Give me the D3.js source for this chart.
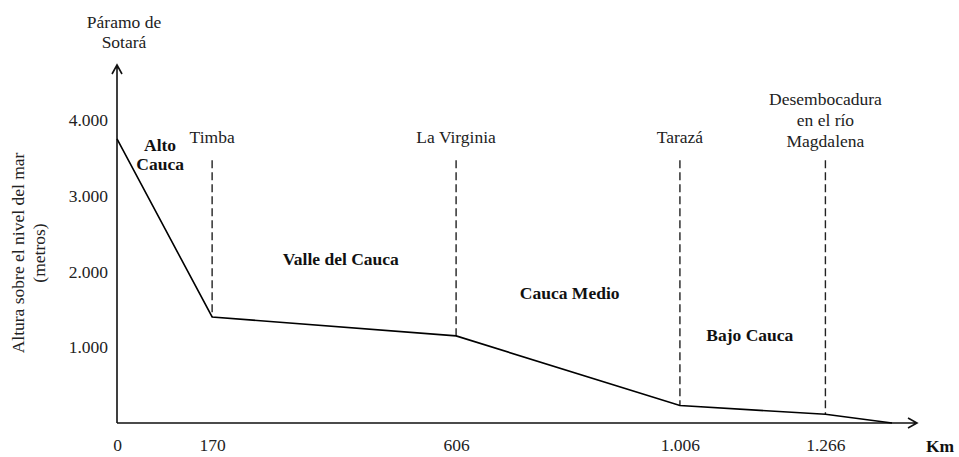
<!DOCTYPE html>
<html>
<head>
<meta charset="utf-8">
<script src="https://cdn.jsdelivr.net/npm/d3@7"></script>
<style>
  body { margin: 0; background: #fff; }
  svg { display: block; font-family: "Liberation Serif", "DejaVu Serif", serif; }
  .tick text { font-size: 17.5px; fill: #222; }
</style>
</head>
<body>
<div id="chart"></div>
<script>
// profile of the river (km from source, altitude in metres)
const km = [0, 170, 606, 1006, 1266, 1385];
const altitude = [3750, 1400, 1150, 230, 115, 0];

// places along the river
const stationNames = [["Timba"], ["La Virginia"], ["Tarazá"], ["Desembocadura", "en el río", "Magdalena"]];
const stationKm = [170, 606, 1006, 1266];
const stationAltitude = [1400, 1150, 230, 115];

// river sections
const sectionNames = [["Alto", "Cauca"], ["Valle del Cauca"], ["Cauca Medio"], ["Bajo Cauca"]];
const sectionKm = [77, 400, 809, 1131];
const sectionAltitude = [3550, 2165, 1715, 1160];

const xTicks = [0, 170, 606, 1006, 1266];
const yTicks = [1000, 2000, 3000, 4000];

const width = 959;
const height = 457;
const margin = { left: 117, right: 67, top: 120, bottom: 34 };
const fontSize = 17.5;

const locale = d3.formatLocale({ decimal: ",", thousands: ".", grouping: [3], currency: ["", ""] });
const fmt = locale.format(",");

const svg = d3
  .select("#chart")
  .append("svg")
  .attr("width", width)
  .attr("height", height);

const x = d3
  .scaleLinear()
  .domain([0, 1385])
  .range([margin.left, 892]);

const y = d3
  .scaleLinear()
  .domain([0, 4000])
  .range([height - margin.bottom, margin.top]);

const x0 = x(0);
const y0 = y(0);

// axes without domain line, arrows drawn separately
svg
  .append("g")
  .attr("transform", `translate(${x0},0)`)
  .call(d3.axisLeft(y).tickValues(yTicks).tickFormat(fmt).tickSize(0).tickPadding(9))
  .call((g) => g.select(".domain").remove())
  .attr("font-family", null)
  .attr("font-size", null);

svg
  .append("g")
  .attr("transform", `translate(0,${y0})`)
  .call(d3.axisBottom(x).tickValues(xTicks).tickFormat(fmt).tickSize(0).tickPadding(16))
  .call((g) => g.select(".domain").remove())
  .attr("font-family", null)
  .attr("font-size", null);

// axis lines with open arrowheads
const yTop = 65;
const xEnd = 917;
svg
  .append("path")
  .attr("d", `M${x0},${y0}V${yTop}M${x0 - 5},${yTop + 9}L${x0},${yTop}L${x0 + 5},${yTop + 9}`)
  .attr("fill", "none")
  .attr("stroke", "#111")
  .attr("stroke-width", 1.6);

svg
  .append("path")
  .attr("d", `M${x0},${y0}H${xEnd}M${xEnd - 9},${y0 - 5}L${xEnd},${y0}L${xEnd - 9},${y0 + 5}`)
  .attr("fill", "none")
  .attr("stroke", "#111")
  .attr("stroke-width", 1.6);

// dashed station lines
const dashTop = 3470;
svg
  .selectAll(".station-line")
  .data(stationKm)
  .enter()
  .append("line")
  .attr("x1", (d) => x(d))
  .attr("x2", (d) => x(d))
  .attr("y1", y(dashTop))
  .attr("y2", (d, i) => y(stationAltitude[i]))
  .attr("stroke", "#222")
  .attr("stroke-width", 1.4)
  .attr("stroke-dasharray", "8,4");

// profile line
const line = d3
  .line()
  .x((d) => x(d[0]))
  .y((d) => y(d[1]));

svg
  .append("path")
  .datum(km.map((k, i) => [k, altitude[i]]))
  .attr("d", line)
  .attr("fill", "none")
  .attr("stroke", "#000")
  .attr("stroke-width", 1.6);

// station labels
const st = svg
  .selectAll(".station")
  .data(stationNames)
  .enter()
  .append("text")
  .attr("text-anchor", "middle")
  .attr("font-size", fontSize)
  .attr("fill", "#222")
  .attr("x", (d, i) => x(stationKm[i]))
  .attr("y", (d) => (d.length > 1 ? 147 - (d.length - 1) * 21 : 143));

st.selectAll("tspan")
  .data((d) => d)
  .enter()
  .append("tspan")
  .attr("x", function () {
    return this.parentNode.getAttribute("x");
  })
  .attr("dy", (d, i) => (i === 0 ? 0 : 21))
  .text((d) => d);

// source label
const src = svg
  .append("text")
  .attr("text-anchor", "middle")
  .attr("font-size", fontSize)
  .attr("fill", "#222")
  .attr("x", x0 + 7)
  .attr("y", 28);
src.append("tspan").attr("x", x0 + 7).text("Páramo de");
src.append("tspan").attr("x", x0 + 7).attr("dy", 20).text("Sotará");

// section labels
const sec = svg
  .selectAll(".section")
  .data(sectionNames)
  .enter()
  .append("text")
  .attr("text-anchor", "middle")
  .attr("font-size", fontSize)
  .attr("font-weight", "bold")
  .attr("fill", "#111")
  .attr("x", (d, i) => x(sectionKm[i]))
  .attr("y", (d, i) => y(sectionAltitude[i]) + 6 - (d.length - 1) * 9);

sec.selectAll("tspan")
  .data((d) => d)
  .enter()
  .append("tspan")
  .attr("x", function () {
    return this.parentNode.getAttribute("x");
  })
  .attr("dy", (d, i) => (i === 0 ? 0 : 19))
  .text((d) => d);

// Km label
svg
  .append("text")
  .attr("x", 940)
  .attr("y", 452)
  .attr("text-anchor", "middle")
  .attr("font-size", fontSize)
  .attr("font-weight", "bold")
  .attr("fill", "#111")
  .text("Km");

// y axis title
const yTitle = svg
  .append("text")
  .attr("transform", "translate(0,253) rotate(-90)")
  .attr("text-anchor", "middle")
  .attr("font-size", fontSize)
  .attr("fill", "#222");
yTitle.append("tspan").attr("x", 0).attr("y", 24).text("Altura sobre el nivel del mar");
yTitle.append("tspan").attr("x", 0).attr("y", 45).text("(metros)");
</script>
</body>
</html>
